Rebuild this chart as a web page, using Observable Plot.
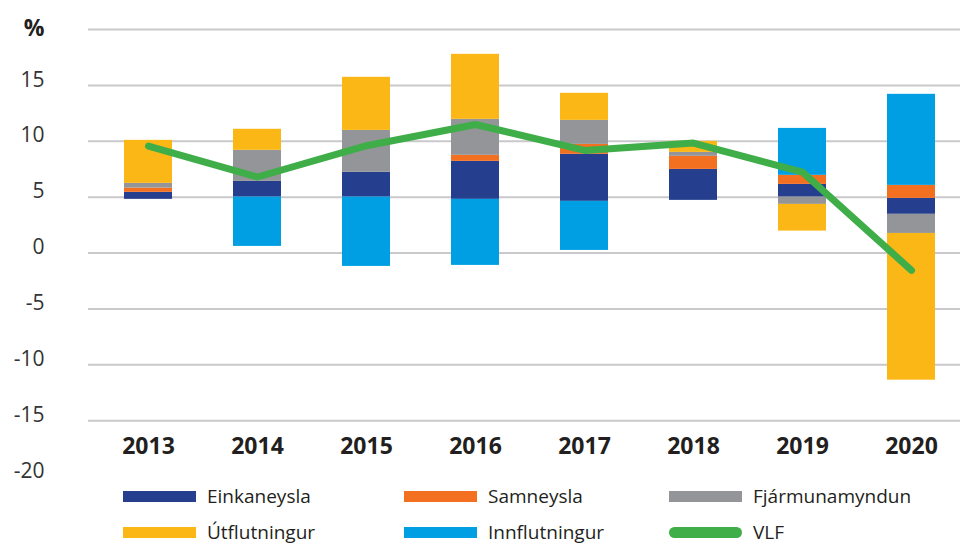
<!DOCTYPE html>
<html>
<head>
<meta charset="utf-8">
<script src="https://cdn.jsdelivr.net/npm/d3@7"></script>
<script src="https://cdn.jsdelivr.net/npm/@observablehq/plot@0.6"></script>
<style>
  html, body { margin: 0; padding: 0; background: #fff; }
  body { width: 960px; height: 545px; overflow: hidden; font-family: "Open Sans", "Noto Sans", sans-serif; }
  #legend { position: relative; margin-top: -12px; margin-left: 123px; display: grid;
    grid-template-columns: 281px 265px 240px; grid-auto-rows: 36px; }
  .item { display: flex; align-items: center; font-size: 19px; line-height: 22px; color: #231f20; }
  .sw { width: 73px; height: 11px; margin-right: 11px; flex: none; }
  .sw.line { border-radius: 6px; }
</style>
</head>
<body>
<div id="chart"></div>
<div id="legend"></div>
<script>
const years = ["2013", "2014", "2015", "2016", "2017", "2018", "2019", "2020"];
const series = ["Einkaneysla", "Samneysla", "Fjármunamyndun", "Útflutningur", "Innflutningur"];
const colors = ["#253f8e", "#f37021", "#939598", "#fbb715", "#009fe3"];
const lineName = "VLF";
const lineColor = "#3fae49";

// Stack starting level of each year's bar
const base = [4.8, 5.0, 5.0, 4.8, 4.62, 4.71, 5.0, 4.89];
// Contributions per series, in the order of `years`
const einkaneysla    = [0.63, 1.41, 2.22, 3.40, 4.21, 2.77, 1.14, -1.43];
const samneysla      = [0.38, 0.00, 0.00, 0.54, 0.89, 1.17, 0.81, 1.16];
const fjarmunamyndun = [0.42, 2.78, 3.75, 3.22, 2.15, 0.35, -0.65, -1.71];
const utflutningur   = [3.85, 1.88, 4.75, 5.82, 2.42, 0.99, -2.39, -13.13];
const innflutningur  = [0.00, -4.41, -6.20, -5.91, -4.39, 0.00, 4.20, 8.15];
const vlf            = [9.57, 6.80, 9.60, 11.50, 9.18, 9.84, 7.24, -1.55];

const yTicks = [15, 10, 5, 0, -5, -10, -15, -20];
const gridTicks = [20, 15, 10, 5, 0, -5, -10, -15];

const values = [einkaneysla, samneysla, fjarmunamyndun, utflutningur, innflutningur];
const rows = [];
years.forEach((yr, i) => {
  let pos = base[i], neg = base[i];
  series.forEach((s, k) => {
    const v = values[k][i];
    if (v === 0) return;
    if (v > 0) { rows.push({year: yr, series: s, y1: pos, y2: pos + v}); pos += v; }
    else { rows.push({year: yr, series: s, y1: neg, y2: neg + v}); neg += v; }
  });
});
const lineRows = years.map((yr, i) => ({year: yr, value: vlf[i]}));

const chart = Plot.plot({
  width: 960,
  height: 490,
  marginLeft: 88,
  marginRight: 0,
  marginTop: 29,
  marginBottom: 14,
  style: {fontFamily: "'Open Sans', 'Noto Sans', sans-serif", background: "#fff", overflow: "visible"},
  x: {domain: years, range: [123, 936], paddingInner: 0.56, paddingOuter: 0, axis: null},
  y: {domain: [-20, 20], axis: null},
  color: {domain: series, range: colors},
  marks: [
    Plot.ruleY(gridTicks, {stroke: "#c9c9cb", strokeWidth: 2}),
    Plot.axisY({ticks: yTicks, tickFormat: d => String(d), tickSize: 0, tickPadding: 44, dy: -5.5, fontSize: 21, color: "#333", label: null}),
    Plot.axisY({ticks: [20], tickFormat: () => "%", tickSize: 0, tickPadding: 44, dy: -1, fontSize: 23, fontWeight: "bold", color: "#231f20", label: null}),
    Plot.barY(rows, {x: "year", y1: "y1", y2: "y2", fill: "series"}),
    Plot.line(lineRows, {x: "year", y: "value", stroke: lineColor, strokeWidth: 7, strokeLinecap: "round", strokeLinejoin: "miter"}),
    Plot.text(years, {x: d => d, frameAnchor: "bottom", lineAnchor: "middle", dy: -30, fontSize: 23, fontWeight: "bold", fill: "#231f20"})
  ]
});
document.getElementById("chart").appendChild(chart);

const legendItems = [
  {name: series[0], color: colors[0]},
  {name: series[1], color: colors[1]},
  {name: series[2], color: colors[2]},
  {name: series[3], color: colors[3]},
  {name: series[4], color: colors[4]},
  {name: lineName, color: lineColor, line: true}
];
const legend = document.getElementById("legend");
legendItems.forEach(it => {
  const d = document.createElement("div");
  d.className = "item";
  const sw = document.createElement("span");
  sw.className = "sw" + (it.line ? " line" : "");
  sw.style.background = it.color;
  d.appendChild(sw);
  d.appendChild(document.createTextNode(it.name));
  legend.appendChild(d);
});
</script>
</body>
</html>
